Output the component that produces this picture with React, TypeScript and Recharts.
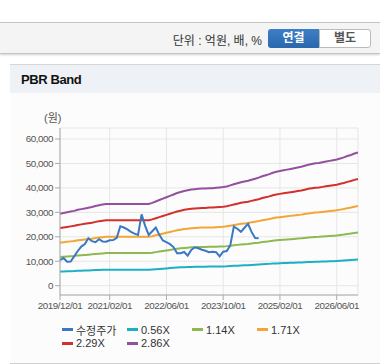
import { LineChart, Line, XAxis, YAxis, CartesianGrid } from "recharts";

const FONT = "'Liberation Sans', 'Noto Sans CJK KR', sans-serif";
const TICK_STYLE = { fontSize: 9.8, fill: "#555", fontFamily: "'Liberation Sans', sans-serif", letterSpacing: -0.45 };

// monthly categories 2019/12 .. 2026/12
const months: string[] = [];
for (let i = 0; i < 85; i++) {
  const m = ((11 + i) % 12) + 1;
  const y = 2019 + Math.floor((11 + i) / 12);
  months.push(`${y}/${String(m).padStart(2, "0")}/01`);
}

const xTicks = ["2019/12/01", "2021/02/01", "2022/06/01", "2023/10/01", "2025/02/01", "2026/06/01"];
const yTicks = [0, 10000, 20000, 30000, 40000, 50000, 60000];

const price = [
  10500, 11300, 9800, 9900, 12000, 14200, 16000, 17000, 19400, 18200,
  17800, 19000, 18100, 18000, 18600, 18700, 19600, 24300, 23800, 23000,
  22000, 21300, 20800, 29200, 24500, 20800, 22300, 23800, 20800, 18500,
  17800, 17000, 15800, 13300, 13300, 13800, 12300, 14600, 15700, 15300,
  14700, 14300, 13700, 13900, 13700, 12000, 13900, 14200, 16500, 24200,
  23300, 22000, 23700, 25300, 22000, 19500, 19400,
];

const band056 = [
  5770, 5820, 5880, 5940, 5990, 6080, 6130, 6190, 6240, 6300, 6380, 6440, 6500,
  6550, 6550, 6550, 6550, 6550, 6550, 6550, 6550, 6550, 6550, 6550, 6550, 6550,
  6640, 6750, 6860, 6970, 7080, 7200, 7310, 7420, 7500, 7590,
  7640, 7700, 7730, 7760, 7780, 7780, 7810, 7810, 7840, 7870,
  7900, 7950, 8040, 8120, 8200, 8290, 8340, 8400, 8480, 8570,
  8650, 8760, 8850, 8930, 9040, 9130, 9180, 9240, 9300, 9350,
  9410, 9460, 9520, 9600, 9690, 9740, 9800, 9830, 9880, 9940,
  10000, 10050, 10110, 10190, 10280, 10390, 10470, 10580, 10670,
];

const band114 = [
  11740, 11860, 11970, 12080, 12200, 12370, 12480, 12600, 12710, 12830, 13000, 13110, 13220,
  13340, 13340, 13340, 13340, 13340, 13340, 13340, 13340, 13340, 13340, 13340, 13340, 13340,
  13510, 13740, 13970, 14190, 14420, 14650, 14880, 15110, 15280, 15450,
  15560, 15680, 15730, 15790, 15850, 15850, 15900, 15900, 15960, 16020,
  16070, 16190, 16360, 16530, 16700, 16870, 16990, 17100, 17270, 17440,
  17610, 17840, 18010, 18180, 18410, 18580, 18700, 18810, 18920, 19040,
  19150, 19270, 19380, 19550, 19720, 19840, 19950, 20010, 20120, 20240,
  20350, 20460, 20580, 20750, 20920, 21150, 21320, 21550, 21720,
];

const band171 = [
  17610, 17780, 17960, 18130, 18300, 18550, 18720, 18900, 19070, 19240, 19490, 19670, 19840,
  20010, 20010, 20010, 20010, 20010, 20010, 20010, 20010, 20010, 20010, 20010, 20010, 20010,
  20260, 20610, 20950, 21290, 21630, 21970, 22320, 22660, 22910, 23170,
  23340, 23510, 23600, 23680, 23770, 23770, 23850, 23850, 23940, 24030,
  24110, 24280, 24540, 24800, 25050, 25310, 25480, 25650, 25910, 26160,
  26420, 26760, 27020, 27270, 27620, 27870, 28040, 28220, 28390, 28560,
  28730, 28900, 29070, 29330, 29580, 29750, 29930, 30010, 30180, 30350,
  30520, 30690, 30870, 31120, 31380, 31720, 31980, 32320, 32580,
];

const band229 = [
  23590, 23820, 24050, 24270, 24500, 24850, 25080, 25300, 25530, 25760, 26110, 26340, 26560,
  26790, 26790, 26790, 26790, 26790, 26790, 26790, 26790, 26790, 26790, 26790, 26790, 26790,
  27140, 27590, 28050, 28510, 28970, 29430, 29880, 30340, 30690, 31030,
  31260, 31490, 31600, 31720, 31830, 31830, 31950, 31950, 32060, 32170,
  32290, 32520, 32860, 33210, 33550, 33890, 34120, 34350, 34690, 35040,
  35380, 35840, 36180, 36530, 36980, 37330, 37560, 37790, 38010, 38240,
  38470, 38700, 38930, 39270, 39620, 39850, 40080, 40190, 40420, 40650,
  40880, 41110, 41330, 41680, 42020, 42480, 42820, 43280, 43620,
];

const band286 = [
  29460, 29740, 30030, 30320, 30600, 31030, 31320, 31600, 31890, 32180, 32600, 32890, 33180,
  33460, 33460, 33460, 33460, 33460, 33460, 33460, 33460, 33460, 33460, 33460, 33460, 33460,
  33890, 34460, 35040, 35610, 36180, 36750, 37320, 37900, 38320, 38750,
  39040, 39330, 39470, 39610, 39750, 39750, 39900, 39900, 40040, 40180,
  40330, 40610, 41040, 41470, 41900, 42330, 42610, 42900, 43330, 43760,
  44190, 44760, 45190, 45620, 46190, 46620, 46900, 47190, 47480, 47760,
  48050, 48330, 48620, 49050, 49480, 49760, 50050, 50190, 50480, 50770,
  51050, 51340, 51620, 52050, 52480, 53050, 53480, 54050, 54480,
];

const series = [
  { key: "price", name: "수정주가", color: "#3a78c4" },
  { key: "b056", name: "0.56X", color: "#1eafc6" },
  { key: "b114", name: "1.14X", color: "#8fb850" },
  { key: "b171", name: "1.71X", color: "#f3a535" },
  { key: "b229", name: "2.29X", color: "#d3302b" },
  { key: "b286", name: "2.86X", color: "#94509e" },
];

const data = months.map((date, i) => ({
  date,
  price: i < price.length ? price[i] : null,
  b056: band056[i],
  b114: band114[i],
  b171: band171[i],
  b229: band229[i],
  b286: band286[i],
}));

const fmt = (v: number) => String(v).replace(/\B(?=(\d{3})+(?!\d))/g, ",");
const DOMAIN: [number, number] = [-3800, 64500];

export default function App() {
  // bands first, price on top
  const drawOrder = [...series.slice(1), series[0]];

  return (
    <div
      style={{
        position: "absolute",
        left: 0,
        top: 0,
        width: 380,
        height: 364,
        background: "#fff",
        overflow: "hidden",
        fontFamily: FONT,
      }}
    >
      {/* toolbar */}
      <div
        style={{
          position: "absolute",
          left: 0,
          top: 22,
          width: 380,
          height: 30,
          background: "#f4f4f4",
          borderTop: "1px solid #c4c4c4",
          borderBottom: "1px solid #c4c4c4",
          boxShadow: "0 1px 2px rgba(0,0,0,0.18)",
        }}
      >
        <div
          style={{
            position: "absolute",
            right: 118,
            top: 8,
            fontSize: 12,
            color: "#333",
            whiteSpace: "nowrap",
          }}
        >
          단위 : 억원, 배, %
        </div>
        <div
          style={{
            position: "absolute",
            left: 268,
            top: 6,
            width: 51,
            height: 19,
            background: "linear-gradient(#3d7fc6, #2a67ad)",
            borderRadius: "3px 0 0 3px",
            color: "#fff",
            fontWeight: "bold",
            fontSize: 12,
            textAlign: "center",
            lineHeight: "19px",
          }}
        >
          연결
        </div>
        <div
          style={{
            position: "absolute",
            left: 319,
            top: 6,
            width: 50,
            height: 17,
            background: "#fff",
            border: "1px solid #bbb",
            borderRadius: "0 3px 3px 0",
            color: "#555",
            fontWeight: "bold",
            fontSize: 12,
            textAlign: "center",
            lineHeight: "17px",
          }}
        >
          별도
        </div>
      </div>

      {/* panel */}
      <div
        style={{
          position: "absolute",
          left: 10,
          top: 64,
          width: 380,
          height: 298,
          background: "#fcfcfc",
          borderTop: "1px solid #d6d6d6",
          borderBottom: "1px solid #cfcfcf",
        }}
      >
        <div
          style={{
            height: 28,
            background: "#eef2f7",
            paddingLeft: 11,
            lineHeight: "30px",
            fontSize: 13,
            fontWeight: "bold",
            color: "#111",
            letterSpacing: -0.4,
          }}
        >
          PBR Band
        </div>
      </div>

      <div
        style={{
          position: "absolute",
          left: 44,
          top: 109,
          fontSize: 11,
          color: "#555",
        }}
      >
        (원)
      </div>

      <div style={{ position: "absolute", left: 0, top: 100 }}>
        <LineChart
          width={380}
          height={220}
          data={data}
          margin={{ top: 28, right: 22, bottom: 0, left: 0 }}
        >
          <CartesianGrid stroke="#e6e6e6" />
          <XAxis
            dataKey="date"
            ticks={xTicks}
            interval={0}
            height={25}
            tickSize={5}
            tick={TICK_STYLE}
            tickLine={{ stroke: "#aaa" }}
            axisLine={{ stroke: "#aaa" }}
          />
          <XAxis
            xAxisId="top"
            orientation="top"
            dataKey="date"
            height={0}
            tick={false}
            tickLine={false}
            axisLine={{ stroke: "#aaa" }}
          />
          <YAxis
            domain={DOMAIN}
            ticks={yTicks}
            tickFormatter={fmt}
            width={60}
            tickSize={5}
            tick={TICK_STYLE}
            tickLine={{ stroke: "#aaa" }}
            axisLine={{ stroke: "#aaa" }}
          />
          <YAxis
            yAxisId="right"
            orientation="right"
            domain={DOMAIN}
            width={0}
            tick={false}
            tickLine={false}
            axisLine={{ stroke: "#aaa" }}
          />
          {drawOrder.map((s) => (
            <Line
              key={s.key}
              dataKey={s.key}
              name={s.name}
              stroke={s.color}
              strokeWidth={2}
              dot={false}
              type="linear"
              isAnimationActive={false}
            />
          ))}
        </LineChart>
      </div>

      {/* legend */}
      <div
        style={{
          position: "absolute",
          left: 62,
          top: 323,
          width: 270,
          display: "flex",
          flexWrap: "wrap",
          fontSize: 11,
          color: "#333",
        }}
      >
        {series.map((s) => (
          <div
            key={s.key}
            style={{ width: 65, height: 13.5, display: "flex", alignItems: "center" }}
          >
            <span
              style={{
                display: "inline-block",
                width: 11,
                height: 3,
                background: s.color,
                marginRight: 3,
              }}
            />
            <span style={{ whiteSpace: "nowrap" }}>{s.name}</span>
          </div>
        ))}
      </div>
    </div>
  );
}
